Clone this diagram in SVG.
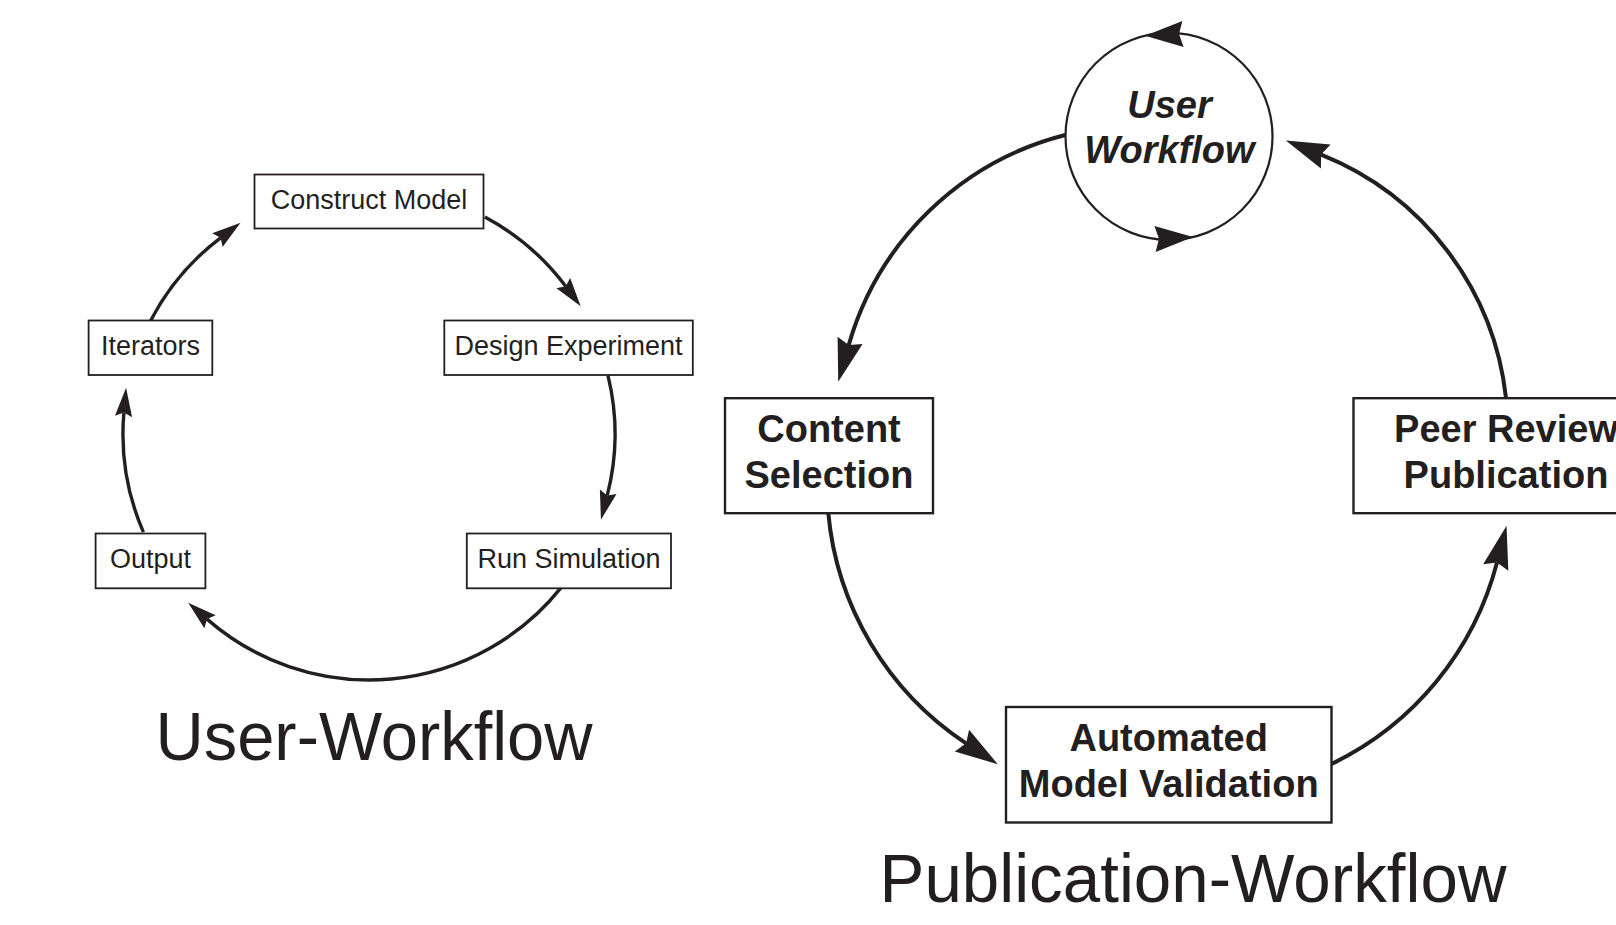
<svg xmlns="http://www.w3.org/2000/svg" width="1616" height="925" viewBox="0 0 1616 925">
  <style>
    .box { fill: #ffffff; stroke: #231f20; }
    .boxS { stroke-width: 1.8; }
    .boxL { stroke-width: 2.4; }
    .lblS { font-family: "Liberation Sans", Arial, Helvetica, sans-serif; font-size: 27px; fill: #231f20; text-anchor: middle; }
    .lblL { font-family: "Liberation Sans", Arial, Helvetica, sans-serif; font-size: 38px; font-weight: bold; fill: #231f20; text-anchor: middle; }
    .lblI { font-style: italic; }
    .title { font-family: "Liberation Sans", Arial, Helvetica, sans-serif; font-size: 68px; fill: #231f20; text-anchor: middle; }
    .conS { fill: none; stroke: #231f20; stroke-width: 3.4; marker-end: url(#arrS); }
    .conL { fill: none; stroke: #231f20; stroke-width: 4; marker-end: url(#arrL); }
    .head { fill: #231f20; stroke: none; }
  </style>
  <defs>
    <marker id="arrS" viewBox="-2 -10 34 20" markerWidth="34" markerHeight="20" refX="4" refY="0" orient="auto" markerUnits="userSpaceOnUse" overflow="visible">
      <path d="M0,-8.6 L29,0 L0,8.6 L4,0 Z" fill="#231f20" stroke="none"/>
    </marker>
    <marker id="arrL" viewBox="-2 -15 48 30" markerWidth="48" markerHeight="30" refX="5" refY="0" orient="auto" markerUnits="userSpaceOnUse" overflow="visible">
      <path d="M0,-13 L43,0 L0,13 L5,0 Z" fill="#231f20" stroke="none"/>
    </marker>
  </defs>

  <rect x="0" y="0" width="1616" height="925" fill="#ffffff"/>

  <!-- Connectors -->
  <g id="connectors">
    <!-- User-Workflow cycle -->
    <path class="conS" d="M484.9,217 A246,246 0 0 1 565.7,286.3"/>
    <path class="conS" d="M608,375.7 A246,246 0 0 1 607.2,495.6"/>
    <path class="conS" d="M561.5,587.1 A246,246 0 0 1 207,619.1"/>
    <path class="conS" d="M143.4,532.1 A246,246 0 0 1 123.9,412.6"/>
    <path class="conS" d="M150.6,320.8 A246,246 0 0 1 220.6,237.8"/>
    <!-- Publication-Workflow cycle -->
    <path class="conL" d="M1065.2,135 A303,303 0 0 0 848.7,345.1"/>
    <path class="conL" d="M828.2,512 A310,310 0 0 0 966.1,743.3"/>
    <path class="conL" d="M1331.5,764 A310,310 0 0 0 1497,562.6"/>
    <path class="conL" d="M1506,398 A297,297 0 0 0 1321.1,154.6"/>
  </g>

  <!-- User-Workflow nodes -->
  <g id="node-construct-model">
    <rect class="box boxS" x="254.5" y="174.5" width="229" height="54"/>
    <text class="lblS" x="369" y="208.5">Construct Model</text>
  </g>
  <g id="node-design-experiment">
    <rect class="box boxS" x="444.3" y="320.5" width="248.5" height="54.5"/>
    <text class="lblS" x="568.5" y="355">Design Experiment</text>
  </g>
  <g id="node-run-simulation">
    <rect class="box boxS" x="466.8" y="533.5" width="204.2" height="54.8"/>
    <text class="lblS" x="569" y="568.3">Run Simulation</text>
  </g>
  <g id="node-output">
    <rect class="box boxS" x="95.6" y="533.5" width="109.8" height="54.8"/>
    <text class="lblS" x="150.5" y="568.3">Output</text>
  </g>
  <g id="node-iterators">
    <rect class="box boxS" x="88.6" y="320.5" width="123.7" height="54.5"/>
    <text class="lblS" x="150.5" y="355">Iterators</text>
  </g>

  <!-- Publication-Workflow nodes -->
  <g id="node-user-workflow">
    <circle cx="1169" cy="136.4" r="103.5" fill="#ffffff" stroke="#231f20" stroke-width="2.2"/>
    <path class="head" d="M1145,35.7 L1182.4,20.9 L1179,34.1 L1183.6,46.9 Z"/>
    <path class="head" d="M1193,237.1 L1154.4,225.9 L1159,238.7 L1155.6,251.9 Z"/>
    <text class="lblL lblI" x="1169.5" y="117.5">User</text>
    <text class="lblL lblI" x="1169.5" y="162.5">Workflow</text>
  </g>
  <g id="node-content-selection">
    <rect class="box boxL" x="725" y="398.2" width="208" height="115"/>
    <text class="lblL" x="829" y="442">Content</text>
    <text class="lblL" x="829" y="487.5">Selection</text>
  </g>
  <g id="node-automated-model-validation">
    <rect class="box boxL" x="1006" y="707" width="325.5" height="115.5"/>
    <text class="lblL" x="1168.7" y="751">Automated</text>
    <text class="lblL" x="1168.7" y="796.5">Model Validation</text>
  </g>
  <g id="node-peer-review-publication">
    <rect class="box boxL" x="1353.5" y="398.2" width="330" height="115"/>
    <text class="lblL" x="1506" y="442">Peer Review</text>
    <text class="lblL" x="1506" y="487.5">Publication</text>
  </g>

  <!-- Titles -->
  <g id="titles">
    <text class="title" x="374" y="760" textLength="437" lengthAdjust="spacingAndGlyphs">User-Workflow</text>
    <text class="title" x="1193" y="901.5" textLength="627" lengthAdjust="spacingAndGlyphs">Publication-Workflow</text>
  </g>
</svg>
